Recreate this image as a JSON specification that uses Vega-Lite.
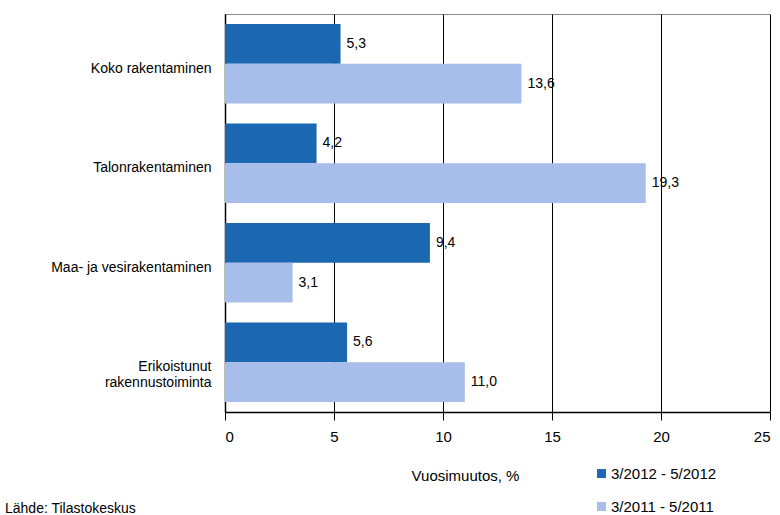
{
  "$schema": "https://vega.github.io/schema/vega-lite/v6.json",
  "autosize": "none",
  "width": 545,
  "height": 398,
  "padding": {"left": 225, "top": 14, "right": 10, "bottom": 103},
  "background": "white",
  "config": {
    "font": "Liberation Sans",
    "view": {"stroke": "#8a8a8a", "strokeWidth": 1}
  },
  "title": {
    "text": "Lähde: Tilastokeskus",
    "orient": "bottom",
    "anchor": "start",
    "frame": "group",
    "dx": -220,
    "offset": -13,
    "fontSize": 14,
    "fontWeight": "normal",
    "color": "#000000",
    "baseline": "top"
  },
  "data": {
    "values": [
      {"category": "Koko rakentaminen", "series": "3/2012 - 5/2012", "value": 5.3, "label": "5,3"},
      {"category": "Koko rakentaminen", "series": "3/2011 - 5/2011", "value": 13.6, "label": "13,6"},
      {"category": "Talonrakentaminen", "series": "3/2012 - 5/2012", "value": 4.2, "label": "4,2"},
      {"category": "Talonrakentaminen", "series": "3/2011 - 5/2011", "value": 19.3, "label": "19,3"},
      {"category": "Maa- ja vesirakentaminen", "series": "3/2012 - 5/2012", "value": 9.4, "label": "9,4"},
      {"category": "Maa- ja vesirakentaminen", "series": "3/2011 - 5/2011", "value": 3.1, "label": "3,1"},
      {"category": "Erikoistunut|rakennustoiminta", "series": "3/2012 - 5/2012", "value": 5.6, "label": "5,6"},
      {"category": "Erikoistunut|rakennustoiminta", "series": "3/2011 - 5/2011", "value": 11.0, "label": "11,0"}
    ]
  },
  "encoding": {
    "y": {
      "field": "category",
      "type": "nominal",
      "sort": null,
      "scale": {"paddingInner": 0.2, "paddingOuter": 0.1},
      "axis": {
        "title": null,
        "ticks": false,
        "labelExpr": "split(datum.label, '|')",
        "labelFontSize": 14,
        "labelColor": "#000000",
        "labelPadding": 14,
        "labelOffset": 5,
        "labelLimit": 300,
        "domainColor": "#000000",
        "domainWidth": 1.5
      }
    },
    "yOffset": {
      "field": "series",
      "type": "nominal",
      "sort": ["3/2012 - 5/2012", "3/2011 - 5/2011"],
      "scale": {"paddingInner": 0, "paddingOuter": 0}
    },
    "x": {
      "field": "value",
      "type": "quantitative",
      "scale": {"domain": [0, 25], "nice": false},
      "axis": {
        "values": [0, 5, 10, 15, 20, 25],
        "title": "Vuosimuutos, %",
        "titleFontSize": 15,
        "titleFontWeight": "normal",
        "titleColor": "#000000",
        "titleX": 240,
        "titleY": 63,
        "titleAlign": "center",
        "titleBaseline": "middle",
        "labelFontSize": 15,
        "labelColor": "#000000",
        "labelPadding": 9,
        "tickSize": 8,
        "tickColor": "#000000",
        "domainColor": "#000000",
        "domainWidth": 1.5,
        "grid": true,
        "gridColor": "#000000",
        "gridOpacity": 1,
        "gridWidth": 1
      }
    }
  },
  "layer": [
    {
      "mark": {"type": "bar"},
      "encoding": {
        "color": {
          "field": "series",
          "type": "nominal",
          "sort": ["3/2012 - 5/2012", "3/2011 - 5/2011"],
          "scale": {"domain": ["3/2012 - 5/2012", "3/2011 - 5/2011"], "range": ["#1c67b1", "#a7bdea"]},
          "legend": {
            "title": null,
            "orient": "none",
            "legendX": 369,
            "legendY": 452,
            "symbolType": "square",
            "symbolSize": 80,
            "symbolStrokeWidth": 0,
            "symbolOpacity": 1,
            "labelFontSize": 15,
            "labelColor": "#000000",
            "labelOffset": 2,
            "rowPadding": 17
          }
        }
      }
    },
    {
      "mark": {"type": "text", "align": "left", "baseline": "middle", "dx": 6, "fontSize": 14, "color": "#000000"},
      "encoding": {
        "text": {"field": "label", "type": "nominal"}
      }
    }
  ]
}
